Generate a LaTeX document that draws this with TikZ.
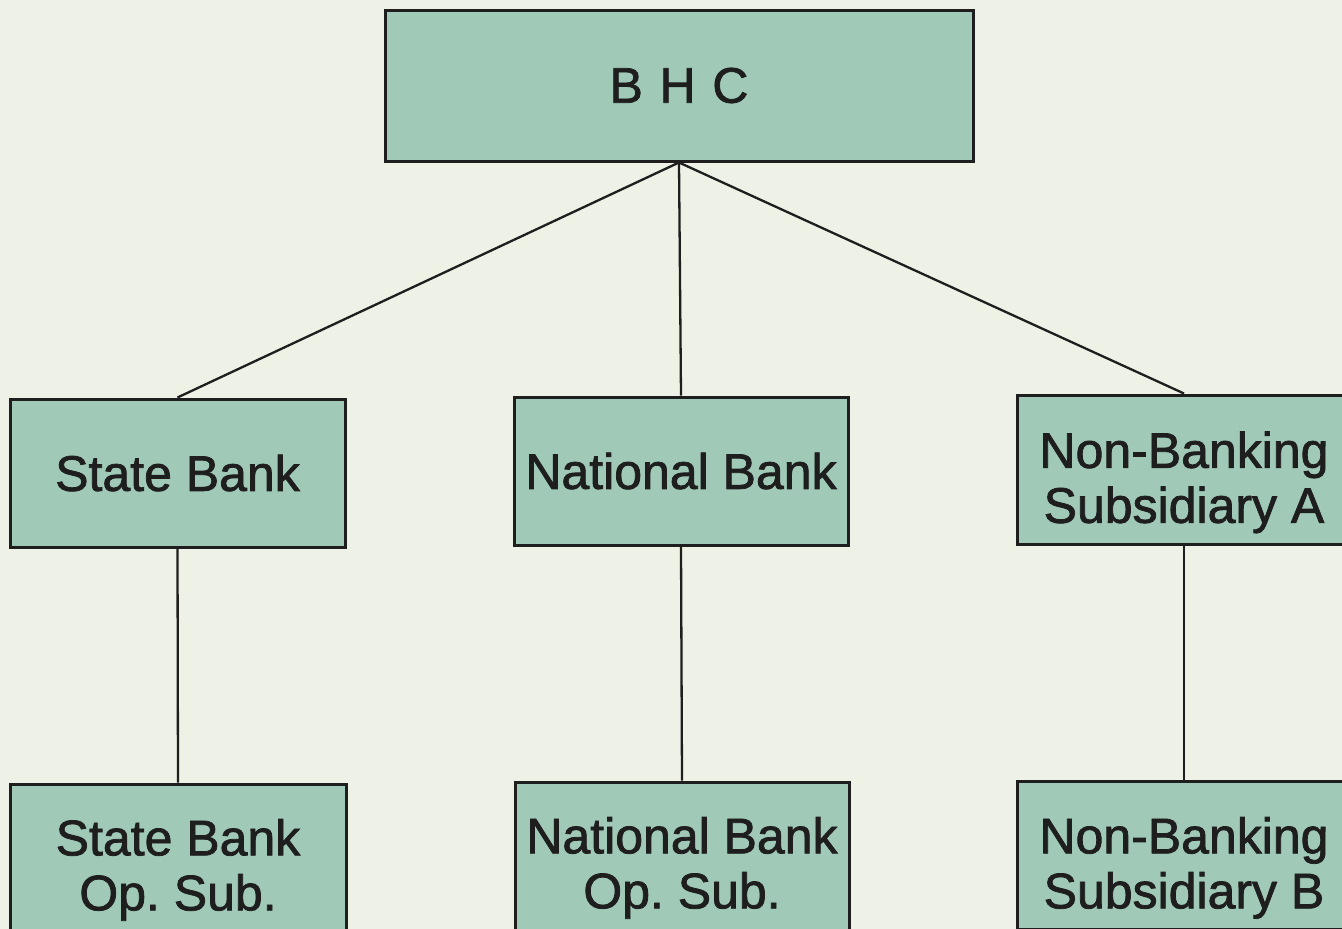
\documentclass[tikz,border=0pt]{standalone}
\usepackage{fontspec}
\setmainfont[FakeBold=1.5]{Liberation Sans}
\definecolor{bgcol}{RGB}{238,242,230}
\definecolor{boxcol}{RGB}{160,201,184}
\definecolor{inkcol}{RGB}{30,30,30}
\begin{document}
\frenchspacing
\begin{tikzpicture}[x=1pt,y=-1pt,
  orgbox/.style={draw=inkcol,line width=3pt,fill=boxcol,rectangle,inner sep=0pt,
    align=center,text=inkcol,font=\fontsize{50}{55}\selectfont},
  link/.style={draw=inkcol,line width=2.3pt}]
\useasboundingbox (0,0) rectangle (1342,929);
\clip (0,0) rectangle (1342,929);
\fill[bgcol] (0,0) rectangle (1342,929);
\node[orgbox,minimum width=588pt,minimum height=151pt] (bhc) at (679,85.5) {B\,\,H\,\,C};
\node[orgbox,minimum width=335pt,minimum height=148pt] (sb) at (177.5,473) {State Bank};
\node[orgbox,minimum width=334pt,minimum height=148pt] (nb) at (681,471) {National Bank};
\node[orgbox,minimum width=334pt,minimum height=149pt] (nba) at (1184,469.5) {\rule{0pt}{62pt}Non-Banking\\Subsidiary A};
\node[orgbox,minimum width=336pt,minimum height=148pt] (sbo) at (178,858) {\rule{0pt}{60pt}State Bank\\Op. Sub.};
\node[orgbox,minimum width=334pt,minimum height=148pt] (nbo) at (682,856) {\rule{0pt}{60pt}National Bank\\Op. Sub.};
\node[orgbox,minimum width=334pt,minimum height=148pt] (nbb) at (1184,855) {\rule{0pt}{62pt}Non-Banking\\Subsidiary B};
\draw[link] (bhc.south) -- (sb.north);
\draw[link] (bhc.south) -- (nb.north);
\draw[link] (bhc.south) -- (nba.north);
\draw[link] (sb.south) -- (sbo.north);
\draw[link] (nb.south) -- (nbo.north);
\draw[link] (nba.south) -- (nbb.north);
\end{tikzpicture}
\end{document}
